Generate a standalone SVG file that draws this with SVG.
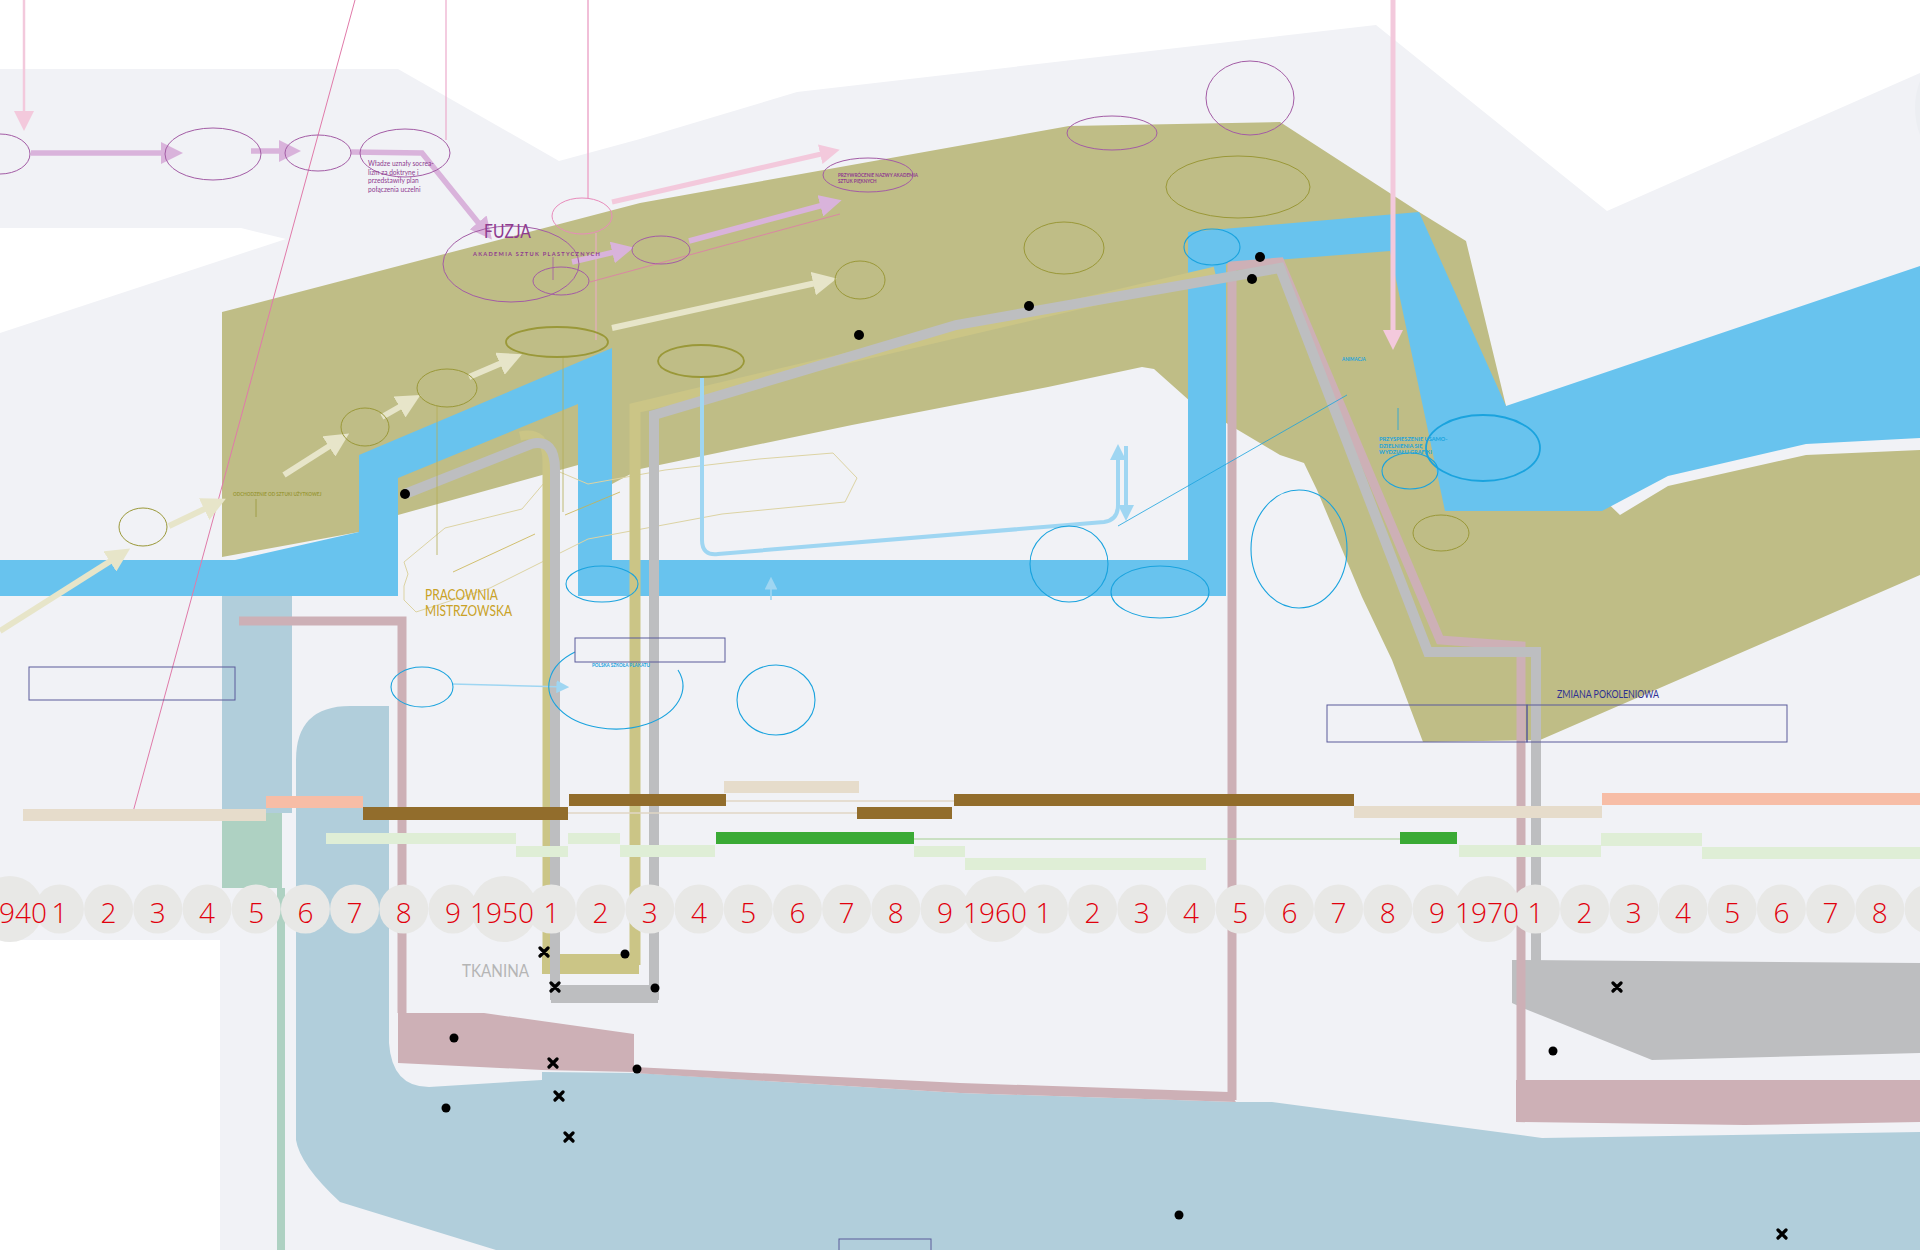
<svg xmlns="http://www.w3.org/2000/svg" width="1920" height="1250" viewBox="0 0 1920 1250">
<defs>
<style>
.yr{fill:#e8e8e6}
.num{font-family:"Open Sans","Liberation Sans",sans-serif;font-weight:300;font-size:28px;fill:#e1000c;text-anchor:middle}
.ep{fill:none;stroke:#a35ca5;stroke-width:1}
.epk{fill:none;stroke:#e88bbb;stroke-width:1}
.eo{fill:none;stroke:#9a9838;stroke-width:1}
.eo2{fill:none;stroke:#9a9838;stroke-width:1.8}
.eb{fill:none;stroke:#1aa3de;stroke-width:1.1}
.eb2{fill:none;stroke:#1aa3de;stroke-width:1.8}
.box{fill:none;stroke:#5a5a9a;stroke-width:1}
.lilac{fill:none;stroke:#d9b3db;stroke-width:5.5}
.cream{fill:none;stroke:#e7e5c9;stroke-width:6}
.dot{fill:#000}
.xm{stroke:#000;stroke-width:3.2;stroke-linecap:round}
.lbl{font-family:"Lato","Open Sans",sans-serif}
.tiny{font-family:"Lato","Open Sans",sans-serif;font-size:4.6px;font-weight:bold}
</style>
<marker id="mLilac" markerWidth="4" markerHeight="4" refX="2" refY="2" orient="auto" markerUnits="strokeWidth"><path d="M0,0 L4,2 L0,4 Z" fill="#d9b3db"/></marker>
<marker id="mCream" markerWidth="4" markerHeight="4" refX="2" refY="2" orient="auto" markerUnits="strokeWidth"><path d="M0,0 L4,2 L0,4 Z" fill="#e7e5c9"/></marker>
<marker id="mPink" markerWidth="4" markerHeight="4" refX="2" refY="2" orient="auto" markerUnits="strokeWidth"><path d="M0,0 L4,2 L0,4 Z" fill="#f3c9dc"/></marker>
<marker id="mPinkThin" markerWidth="8" markerHeight="8" refX="6" refY="4" orient="auto" markerUnits="strokeWidth"><path d="M0,0 L8,4 L0,8 Z" fill="#f3c9dc"/></marker>
<marker id="mBlue" markerWidth="4" markerHeight="4" refX="2" refY="2" orient="auto" markerUnits="strokeWidth"><path d="M0,0 L4,2 L0,4 Z" fill="#9fd6f2"/></marker>
<marker id="mBlueThin" markerWidth="8" markerHeight="8" refX="6" refY="4" orient="auto" markerUnits="strokeWidth"><path d="M0,0 L8,4 L0,8 Z" fill="#9fd6f2"/></marker>
</defs>

<!-- background -->
<rect width="1920" height="1250" fill="#ffffff"/>
<polygon points="0,69 398,69 559,161 640,139 797,92 1280,36 1376,25 1607,211 1920,73 1920,1250 0,1250" fill="#f1f2f6"/>
<circle cx="1990" cy="108" r="75" fill="#eceef2"/>
<polygon points="0,228 241,228 286,239 0,333" fill="#ffffff"/>
<rect x="0" y="940" width="220" height="310" fill="#ffffff"/>

<!-- olive field -->
<polygon points="222,312 640,203 1069,126 1280,122 1419,212 1466,241 1506,406 1620,515 1668,486 1806,455 1920,450 1920,575 1540,740 1423,742 1392,660 1362,597 1317,490 1304,463 1280,455 1191,402 1154,369 1142,367 1048,387 852,425 640,469 612,484 578,465 398,515 359,532 222,557" fill="#bfbd86"/>

<!-- blue river -->
<polygon points="0,560 235,560 359,532 359,455 612,348 612,560 1188,560 1188,232 1419,212 1506,406 1920,266 1920,438 1806,444 1668,476 1602,511 1445,511 1390,251 1226,264 1226,596 578,596 578,404 398,478 398,596 0,596" fill="#68c3ee"/>

<!-- steel blue / green lower region -->
<rect x="222" y="596" width="70" height="217" fill="#b1cedb"/>
<path d="M296,760 Q296,706 350,706 L389,706 L389,1043 Q392,1087 429,1087 L542,1080 L542,1072 L637,1073 L960,1093 L1236,1102 L1272,1102 L1542,1138 L1920,1132 L1920,1250 L496,1250 L340,1202 Q300,1165 296,1140 Z" fill="#b1cedb"/>
<rect x="222" y="813" width="60" height="75" fill="#aed1c2"/>
<rect x="277" y="888" width="8" height="362" fill="#aed1c2"/>

<!-- rose shapes -->
<polygon points="398,1013 484,1013 634,1034 634,1072 542,1070 398,1063" fill="#cdb0b6"/>
<polygon points="634,1067 960,1083 1229,1092 1236,1102 960,1093 634,1073" fill="#cdb0b6"/>
<polygon points="1516,1080 1920,1080 1920,1122 1745,1125 1516,1122" fill="#cdb0b6"/>
<!-- gray shapes -->
<polygon points="1512,960 1920,963 1920,1053 1652,1060 1523,1008 1512,1003" fill="#bdbec0"/>
<rect x="551" y="985" width="107" height="18" fill="#bdbec0"/>
<rect x="542" y="954" width="97" height="20" fill="#cbc586"/>

<!-- thin decorative outline -->
<polyline points="404,586 408,574 404,562 445,528 522,509 555,470 588,484 665,470 759,459 833,453 857,478 845,502 722,514 588,539 490,588 416,612 404,600 404,586" fill="none" stroke="#dcd3a3" stroke-width="1"/>

<g id="connectors">
<path d="M239,621 H402 V1013" fill="none" stroke="#cdb0b6" stroke-width="9"/>
<path d="M1232,1100 V266 L1280,262 L1440,640 L1521,646 V1110" fill="none" stroke="#cdb0b6" stroke-width="9"/>
<path d="M520,436 Q547,430 547,462 V965" fill="none" stroke="#cbc586" stroke-width="9"/>
<path d="M405,494 L531,444 Q555,438 555,470 V1000" fill="none" stroke="#bdbec0" stroke-width="10"/>
<path d="M635,965 V408 L1215,272" fill="none" stroke="#cbc586" stroke-width="11"/>
<path d="M654,1000 V415 L956,325 L1280,268 L1428,652 L1536,652 V962" fill="none" stroke="#bdbec0" stroke-width="10"/>

<line x1="24" y1="0" x2="24" y2="126" stroke="#f3c9dc" stroke-width="2.5" marker-end="url(#mPinkThin)"/>
<line x1="355" y1="0" x2="133" y2="812" stroke="#e07aa9" stroke-width="1"/>
<line x1="446" y1="0" x2="446" y2="140" stroke="#ecaacb" stroke-width="1.2"/>
<line x1="588" y1="0" x2="588" y2="199" stroke="#ecaacb" stroke-width="1.5"/>
<line x1="596" y1="233" x2="596" y2="340" stroke="#ecaacb" stroke-width="1"/>
<line x1="1393" y1="0" x2="1393" y2="340" stroke="#f3c9dc" stroke-width="5" marker-end="url(#mPink)"/>
<line x1="612" y1="202" x2="830" y2="152" stroke="#f3c9dc" stroke-width="5" marker-end="url(#mPink)"/>
<line x1="590" y1="282" x2="840" y2="214" stroke="#e07aa9" stroke-width="0.8"/>

<line class="lilac" x1="31" y1="153" x2="172" y2="153" marker-end="url(#mLilac)"/>
<line class="lilac" x1="251" y1="151" x2="290" y2="151" marker-end="url(#mLilac)"/>
<polyline class="lilac" points="351,152 422,153 485,231" marker-end="url(#mLilac)"/>
<line class="lilac" x1="572" y1="262" x2="623" y2="250" marker-end="url(#mLilac)"/>
<line class="lilac" x1="689" y1="241" x2="831" y2="203" marker-end="url(#mLilac)"/>

<line class="cream" x1="0" y1="631" x2="120" y2="555" marker-end="url(#mCream)"/>
<line class="cream" x1="169" y1="526" x2="215" y2="504" marker-end="url(#mCream)"/>
<line class="cream" x1="284" y1="475" x2="339" y2="440" marker-end="url(#mCream)"/>
<line class="cream" x1="382" y1="417" x2="410" y2="401" marker-end="url(#mCream)"/>
<line class="cream" x1="469" y1="377" x2="511" y2="359" marker-end="url(#mCream)"/>
<line class="cream" x1="612" y1="328" x2="825" y2="281" marker-end="url(#mCream)"/>

<path d="M702,377 V540 Q702,556 718,554 L1104,522 Q1118,520 1118,505 V452" fill="none" stroke="#9fd6f2" stroke-width="4" marker-end="url(#mBlue)"/>
<line x1="1126" y1="446" x2="1126" y2="513" stroke="#9fd6f2" stroke-width="4" marker-end="url(#mBlue)"/>
<line x1="1118" y1="526" x2="1347" y2="395" stroke="#1aa3de" stroke-width="0.8"/>
<line x1="452" y1="684" x2="566" y2="687" stroke="#9fd6f2" stroke-width="1.6" marker-end="url(#mBlueThin)"/>
<line x1="771" y1="600" x2="771" y2="580" stroke="#9fd6f2" stroke-width="1.6" marker-end="url(#mBlueThin)"/>
<line x1="1398" y1="408" x2="1398" y2="430" stroke="#1aa3de" stroke-width="0.8"/>

<line x1="563" y1="356" x2="563" y2="512" stroke="#b5ad55" stroke-width="0.8"/>
<line x1="437" y1="406" x2="437" y2="555" stroke="#b5ad55" stroke-width="0.8"/>
<line x1="453" y1="572" x2="535" y2="534" stroke="#c9b24d" stroke-width="0.8"/>
<line x1="565" y1="515" x2="620" y2="492" stroke="#c9b24d" stroke-width="0.8"/>
<line x1="256" y1="499" x2="256" y2="517" stroke="#9a9838" stroke-width="0.8"/>
<line x1="553" y1="257" x2="553" y2="280" stroke="#a35ca5" stroke-width="0.8"/>
</g>

<g id="n-e1"><ellipse class="ep" cx="0" cy="154" rx="30" ry="20"/></g>
<g id="n-e2"><ellipse class="ep" cx="213" cy="154" rx="48" ry="26"/></g>
<g id="n-e3"><ellipse class="ep" cx="318" cy="153" rx="33" ry="18"/></g>
<g id="n-e4"><ellipse class="ep" cx="405" cy="153" rx="45" ry="24"/>
<text class="lbl" x="368" y="166" font-size="6.6" fill="#8e3b8f">Władze uznały socrea-</text>
<text class="lbl" x="368" y="174.5" font-size="6.6" fill="#8e3b8f">lizm za doktrynę i</text>
<text class="lbl" x="368" y="183" font-size="6.6" fill="#8e3b8f">przedstawiły plan</text>
<text class="lbl" x="368" y="191.5" font-size="6.6" fill="#8e3b8f">połączenia uczelni</text>
</g>
<g id="n-fuzja"><ellipse class="ep" cx="511" cy="264" rx="68" ry="38"/>
<text class="lbl" x="484" y="238" font-size="20" fill="#8e3b8f" textLength="47" lengthAdjust="spacingAndGlyphs">FUZJA</text>
<text class="lbl" x="473" y="256" font-size="5.6" font-weight="bold" fill="#8e3b8f" letter-spacing="1.3">AKADEMIA SZTUK PLASTYCZNYCH</text>
</g>
<g id="n-e6"><ellipse class="ep" cx="561" cy="281" rx="28" ry="14"/></g>
<g id="n-e7"><ellipse class="epk" cx="582" cy="216" rx="30" ry="18"/></g>
<g id="n-e8"><ellipse class="ep" cx="661" cy="250" rx="29" ry="14"/></g>
<g id="n-e9"><ellipse class="ep" cx="868" cy="175" rx="45" ry="17"/>
<text class="tiny" x="838" y="177" fill="#8e3b8f">PRZYWRÓCENIE NAZWY AKADEMIA</text>
<text class="tiny" x="838" y="182.5" fill="#8e3b8f">SZTUK PIĘKNYCH</text>
</g>
<g id="n-e10"><ellipse class="ep" cx="1112" cy="133" rx="45" ry="17"/></g>
<g id="n-e11"><ellipse class="ep" cx="1250" cy="98" rx="44" ry="37"/></g>

<g id="n-o1"><ellipse class="eo" cx="1238" cy="187" rx="72" ry="31"/></g>
<g id="n-o2"><ellipse class="eo" cx="1064" cy="248" rx="40" ry="26"/></g>
<g id="n-o3"><ellipse class="eo" cx="860" cy="280" rx="25" ry="19"/></g>
<g id="n-o4"><ellipse class="eo2" cx="701" cy="361" rx="43" ry="16"/></g>
<g id="n-o5"><ellipse class="eo2" cx="557" cy="342" rx="51" ry="15"/></g>
<g id="n-o6"><ellipse class="eo" cx="447" cy="388" rx="30" ry="19"/></g>
<g id="n-o7"><ellipse class="eo" cx="365" cy="427" rx="24" ry="19"/></g>
<g id="n-o8"><ellipse class="eo" cx="143" cy="527" rx="24" ry="19"/></g>
<g id="n-o9"><ellipse class="eo" cx="1441" cy="533" rx="28" ry="18"/></g>
<g id="n-odch"><text class="tiny" x="233" y="496" font-weight="normal" fill="#9a9838">ODCHODZENIE OD SZTUKI UŻYTKOWEJ</text></g>

<g id="n-b1"><ellipse class="eb" cx="1212" cy="247" rx="28" ry="18"/></g>
<g id="n-b2"><ellipse class="eb2" cx="1483" cy="448" rx="57" ry="33"/></g>
<g id="n-b3"><ellipse class="eb" cx="1410" cy="471" rx="28" ry="18"/></g>
<g id="n-b4"><ellipse class="eb" cx="1299" cy="549" rx="48" ry="59"/></g>
<g id="n-b5"><ellipse class="eb" cx="1069" cy="564" rx="39" ry="38"/></g>
<g id="n-b6"><ellipse class="eb" cx="1160" cy="592" rx="49" ry="26"/></g>
<g id="n-b7"><ellipse class="eb" cx="602" cy="584" rx="36" ry="18"/></g>
<g id="n-b9"><path class="eb" d="M575,652 A67,43 0 1 0 678,670"/>
<text class="tiny" x="592" y="667" fill="#1aa3de">POLSKA SZKOŁA PLAKATU</text></g>
<g id="n-b10"><ellipse class="eb" cx="422" cy="687" rx="31" ry="20"/></g>
<g id="n-b11"><ellipse class="eb" cx="776" cy="700" rx="39" ry="35"/></g>
<g id="n-anim"><text class="tiny" x="1342" y="361" fill="#1aa3de">ANIMACJA</text></g>
<g id="n-przysp">
<text class="lbl" x="1379" y="441" font-size="5.6" font-weight="bold" fill="#1aa3de">PRZYSPIESZENIE USAMO-</text>
<text class="lbl" x="1379" y="447.5" font-size="5.6" font-weight="bold" fill="#1aa3de">DZIELNIENIA SIĘ</text>
<text class="lbl" x="1379" y="454" font-size="5.6" font-weight="bold" fill="#1aa3de">WYDZIAŁU GRAFIKI</text>
</g>

<g id="n-boxes">
<rect class="box" x="29" y="667" width="206" height="33"/>
<rect class="box" x="575" y="638" width="150" height="24"/>
<rect class="box" x="1327" y="705" width="200" height="37"/>
<rect class="box" x="1527" y="705" width="260" height="37"/>
<rect class="box" x="839" y="1239" width="92" height="14"/>
</g>

<g id="n-labels">
<text class="lbl" x="425" y="600" font-size="16" fill="#c9a227" textLength="73" lengthAdjust="spacingAndGlyphs">PRACOWNIA</text>
<text class="lbl" x="425" y="616" font-size="16" fill="#c9a227" textLength="87" lengthAdjust="spacingAndGlyphs">MISTRZOWSKA</text>
<text class="lbl" x="462" y="977" font-size="18" fill="#b5b5b5" textLength="67" lengthAdjust="spacingAndGlyphs">TKANINA</text>
<text class="lbl" x="1557" y="698" font-size="10.5" fill="#2e3192" textLength="102" lengthAdjust="spacingAndGlyphs">ZMIANA POKOLENIOWA</text>
</g>

<g id="events">
<circle class="dot" cx="405" cy="494" r="5"/>
<circle class="dot" cx="859" cy="335" r="5"/>
<circle class="dot" cx="1029" cy="306" r="5"/>
<circle class="dot" cx="1260" cy="257" r="5"/>
<circle class="dot" cx="1252" cy="279" r="5"/>
<circle class="dot" cx="625" cy="954" r="4.5"/>
<circle class="dot" cx="454" cy="1038" r="4.5"/>
<circle class="dot" cx="655" cy="988" r="4.5"/>
<circle class="dot" cx="637" cy="1069" r="4.5"/>
<circle class="dot" cx="446" cy="1108" r="4.5"/>
<circle class="dot" cx="1553" cy="1051" r="4.5"/>
<circle class="dot" cx="1179" cy="1215" r="4.5"/>
<path class="xm" d="M540,948 l8,8 m0,-8 l-8,8 M551,983 l8,8 m0,-8 l-8,8 M549,1059 l8,8 m0,-8 l-8,8 M555,1092 l8,8 m0,-8 l-8,8 M565,1133 l8,8 m0,-8 l-8,8 M1613,983 l8,8 m0,-8 l-8,8 M1778,1230 l8,8 m0,-8 l-8,8"/>
</g>

<g id="bars">
<line x1="726" y1="801" x2="954" y2="801" stroke="#e0d6c4" stroke-width="1.5"/>
<line x1="568" y1="813" x2="857" y2="813" stroke="#e0d6c4" stroke-width="1.5"/>
<line x1="914" y1="839" x2="1400" y2="839" stroke="#bcdab2" stroke-width="1.5"/>
<rect x="23" y="809" width="243" height="12" fill="#e6dccb"/>
<rect x="266" y="796" width="97" height="12" fill="#f7bda6"/>
<rect x="363" y="807" width="205" height="13" fill="#926d2c"/>
<rect x="569" y="794" width="157" height="12" fill="#926d2c"/>
<rect x="724" y="781" width="135" height="12" fill="#e6dccb"/>
<rect x="857" y="807" width="95" height="12" fill="#926d2c"/>
<rect x="954" y="794" width="400" height="12" fill="#926d2c"/>
<rect x="1354" y="806" width="248" height="12" fill="#e6dccb"/>
<rect x="1602" y="793" width="318" height="12" fill="#f7bda6"/>
<rect x="326" y="833" width="190" height="11" fill="#dfeed6"/>
<rect x="516" y="846" width="52" height="11" fill="#dfeed6"/>
<rect x="568" y="833" width="52" height="11" fill="#dfeed6"/>
<rect x="620" y="845" width="95" height="12" fill="#dfeed6"/>
<rect x="716" y="832" width="198" height="12" fill="#3aaa35"/>
<rect x="914" y="846" width="51" height="11" fill="#dfeed6"/>
<rect x="965" y="858" width="241" height="12" fill="#dfeed6"/>
<rect x="1400" y="832" width="57" height="12" fill="#3aaa35"/>
<rect x="1459" y="845" width="142" height="12" fill="#dfeed6"/>
<rect x="1601" y="833" width="101" height="13" fill="#dfeed6"/>
<rect x="1702" y="847" width="218" height="12" fill="#dfeed6"/>
</g>

<g id="timeline">
<circle class="yr" cx="10" cy="909" r="33"/>
<circle class="yr" cx="59.4" cy="909" r="24.5"/><circle class="yr" cx="108.6" cy="909" r="24.5"/><circle class="yr" cx="157.8" cy="909" r="24.5"/><circle class="yr" cx="207" cy="909" r="24.5"/><circle class="yr" cx="256.2" cy="909" r="24.5"/><circle class="yr" cx="305.4" cy="909" r="24.5"/><circle class="yr" cx="354.6" cy="909" r="24.5"/><circle class="yr" cx="403.8" cy="909" r="24.5"/><circle class="yr" cx="453" cy="909" r="24.5"/>
<circle class="yr" cx="504" cy="909" r="33"/>
<circle class="yr" cx="551.4" cy="909" r="24.5"/><circle class="yr" cx="600.6" cy="909" r="24.5"/><circle class="yr" cx="649.8" cy="909" r="24.5"/><circle class="yr" cx="699" cy="909" r="24.5"/><circle class="yr" cx="748.2" cy="909" r="24.5"/><circle class="yr" cx="797.4" cy="909" r="24.5"/><circle class="yr" cx="846.6" cy="909" r="24.5"/><circle class="yr" cx="895.8" cy="909" r="24.5"/><circle class="yr" cx="945" cy="909" r="24.5"/>
<circle class="yr" cx="996" cy="909" r="33"/>
<circle class="yr" cx="1043.4" cy="909" r="24.5"/><circle class="yr" cx="1092.6" cy="909" r="24.5"/><circle class="yr" cx="1141.8" cy="909" r="24.5"/><circle class="yr" cx="1191" cy="909" r="24.5"/><circle class="yr" cx="1240.2" cy="909" r="24.5"/><circle class="yr" cx="1289.4" cy="909" r="24.5"/><circle class="yr" cx="1338.6" cy="909" r="24.5"/><circle class="yr" cx="1387.8" cy="909" r="24.5"/><circle class="yr" cx="1437" cy="909" r="24.5"/>
<circle class="yr" cx="1488" cy="909" r="33"/>
<circle class="yr" cx="1535.4" cy="909" r="24.5"/><circle class="yr" cx="1584.6" cy="909" r="24.5"/><circle class="yr" cx="1633.8" cy="909" r="24.5"/><circle class="yr" cx="1683" cy="909" r="24.5"/><circle class="yr" cx="1732.2" cy="909" r="24.5"/><circle class="yr" cx="1781.4" cy="909" r="24.5"/><circle class="yr" cx="1830.6" cy="909" r="24.5"/><circle class="yr" cx="1879.8" cy="909" r="24.5"/><circle class="yr" cx="1929" cy="909" r="24.5"/>
<text class="num" x="23" y="923">940</text>
<text class="num" x="59.4" y="923">1</text><text class="num" x="108.6" y="923">2</text><text class="num" x="157.8" y="923">3</text><text class="num" x="207" y="923">4</text><text class="num" x="256.2" y="923">5</text><text class="num" x="305.4" y="923">6</text><text class="num" x="354.6" y="923">7</text><text class="num" x="403.8" y="923">8</text><text class="num" x="453" y="923">9</text>
<text class="num" x="502" y="923">1950</text>
<text class="num" x="551.4" y="923">1</text><text class="num" x="600.6" y="923">2</text><text class="num" x="649.8" y="923">3</text><text class="num" x="699" y="923">4</text><text class="num" x="748.2" y="923">5</text><text class="num" x="797.4" y="923">6</text><text class="num" x="846.6" y="923">7</text><text class="num" x="895.8" y="923">8</text><text class="num" x="945" y="923">9</text>
<text class="num" x="995" y="923">1960</text>
<text class="num" x="1043.4" y="923">1</text><text class="num" x="1092.6" y="923">2</text><text class="num" x="1141.8" y="923">3</text><text class="num" x="1191" y="923">4</text><text class="num" x="1240.2" y="923">5</text><text class="num" x="1289.4" y="923">6</text><text class="num" x="1338.6" y="923">7</text><text class="num" x="1387.8" y="923">8</text><text class="num" x="1437" y="923">9</text>
<text class="num" x="1487" y="923">1970</text>
<text class="num" x="1535.4" y="923">1</text><text class="num" x="1584.6" y="923">2</text><text class="num" x="1633.8" y="923">3</text><text class="num" x="1683" y="923">4</text><text class="num" x="1732.2" y="923">5</text><text class="num" x="1781.4" y="923">6</text><text class="num" x="1830.6" y="923">7</text><text class="num" x="1879.8" y="923">8</text>
</g>
</svg>
